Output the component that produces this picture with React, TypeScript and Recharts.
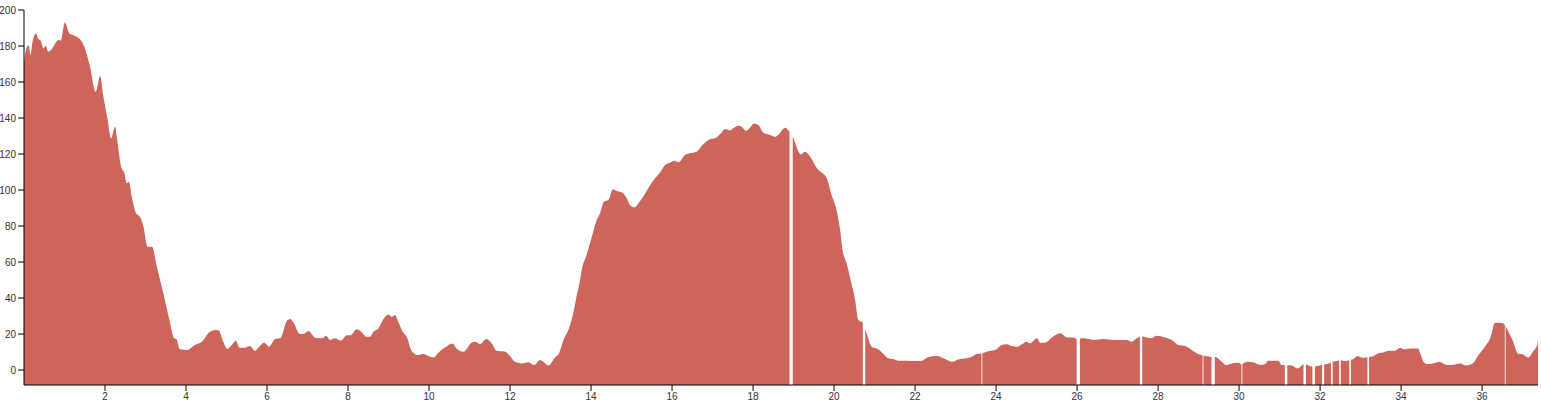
import { AreaChart, Area, XAxis, YAxis } from 'recharts';

// distance (km) -> elevation (m); null marks a break in the profile
const profile: [number, number | null][] = [
  [0.0, 171], [0.04, 177], [0.12, 180.5], [0.16, 175], [0.21, 182.4], [0.3, 187], [0.35, 184],
  [0.41, 183], [0.48, 178.7], [0.54, 180], [0.6, 176.8], [0.7, 178.7], [0.85, 183.3], [0.91, 183],
  [1.01, 193], [1.12, 187], [1.22, 186], [1.37, 184], [1.45, 181.5], [1.63, 168.5], [1.77, 154.6],
  [1.88, 163.3], [1.96, 151.9], [2.06, 139.8], [2.15, 128.7], [2.25, 135.2], [2.3, 127.8],
  [2.41, 112], [2.47, 110], [2.54, 103.7], [2.59, 104.6], [2.66, 96.3], [2.77, 87], [2.86, 85.2],
  [2.95, 79.6], [3.05, 68.5], [3.16, 68.5], [3.28, 57.4], [3.44, 42.6], [3.59, 27.8], [3.71, 17.6],
  [3.77, 17], [3.84, 11.7], [4.02, 11.1], [4.22, 13.9], [4.39, 15.7], [4.59, 21.3], [4.72, 22.2],
  [4.81, 22], [4.92, 15.7], [5.02, 11.7], [5.13, 13.9], [5.23, 16.3], [5.32, 12.4], [5.46, 12.4],
  [5.58, 13.3], [5.7, 10.7], [5.83, 13.5], [5.93, 15.2], [6.05, 13], [6.2, 17.2], [6.32, 17.6],
  [6.4, 21.3], [6.49, 27.4], [6.57, 28.3], [6.65, 26.5], [6.81, 20], [6.9, 20], [7.02, 21.7],
  [7.19, 18], [7.35, 17.6], [7.46, 18.9], [7.56, 16.7], [7.68, 17.6], [7.82, 16.3], [7.97, 19.4],
  [8.07, 19.4], [8.21, 22.6], [8.32, 21.3], [8.46, 18.5], [8.54, 18.5], [8.63, 21.3], [8.75, 23.1],
  [8.87, 28.1], [9.0, 30.9], [9.08, 29.6], [9.16, 30.6], [9.24, 26.9], [9.35, 21.3], [9.45, 18.5],
  [9.57, 10.7], [9.72, 8.3], [9.86, 8.9], [9.98, 7.8], [10.11, 7.0], [10.23, 9.6], [10.4, 12.6],
  [10.58, 14.8], [10.68, 12], [10.85, 10.2], [11.05, 15.2], [11.14, 15.7], [11.26, 14.4],
  [11.42, 17.2], [11.55, 14.8], [11.67, 10.7], [11.88, 10.2], [12.0, 7.8], [12.12, 4.6],
  [12.29, 3.7], [12.45, 4.4], [12.6, 2.8], [12.74, 5.6], [12.82, 4.6], [12.95, 2.6], [13.11, 7],
  [13.21, 9.3], [13.32, 16.7], [13.44, 22.2], [13.56, 31.5], [13.64, 40.7], [13.73, 50],
  [13.77, 55.6], [13.89, 63.9], [14.02, 74.1], [14.14, 83.3], [14.22, 87], [14.32, 93.5],
  [14.43, 94.4], [14.54, 100.4], [14.63, 99.4], [14.78, 98.5], [14.88, 95.4], [14.96, 91.7],
  [15.07, 90.4], [15.21, 93.9], [15.33, 97.8], [15.46, 102.8], [15.58, 106.5], [15.7, 109.6],
  [15.83, 113.9], [15.95, 115.2], [16.07, 116.3], [16.16, 115.4], [16.32, 119.4], [16.44, 120.4],
  [16.61, 121.3], [16.77, 125.4], [16.94, 128.2], [17.06, 128.7], [17.19, 131.1], [17.31, 133.9],
  [17.43, 133.1], [17.52, 134.4], [17.64, 135.7], [17.72, 135.2], [17.82, 132.9], [17.93, 134.8],
  [18.02, 137], [18.13, 136.1], [18.25, 132], [18.42, 130.6], [18.54, 129.6], [18.62, 130.6],
  [18.79, 134.6], [18.9, 132.2], [18.94, null], [18.98, 129.8], [19.0, 128.7], [19.18, 119.8],
  [19.28, 121.3], [19.41, 118.5], [19.59, 111.7], [19.7, 109.6], [19.82, 106.5], [19.94, 97.2],
  [20.07, 88], [20.15, 77.8], [20.21, 66.7], [20.31, 59.3], [20.41, 50], [20.52, 38.9],
  [20.6, 27.8], [20.71, 26.5], [20.74, null], [20.77, 23], [20.81, 20], [20.93, 13], [21.09, 11.6],
  [21.22, 8.9], [21.34, 6.5], [21.46, 6.1], [21.59, 5.2], [21.79, 5.2], [22.0, 5.0], [22.17, 5.2],
  [22.3, 7], [22.54, 7.8], [22.7, 6.5], [22.91, 4.6], [23.07, 5.9], [23.28, 6.5], [23.4, 7.4],
  [23.52, 8.9], [23.64, 9.1], [23.65, null], [23.66, 9.2], [23.77, 10.2], [23.98, 11.1],
  [24.14, 13.9], [24.26, 14.4], [24.39, 13.3], [24.51, 13], [24.67, 14.8], [24.75, 15.7],
  [24.84, 14.8], [25.01, 17.6], [25.09, 15.2], [25.21, 15.2], [25.38, 18.1], [25.58, 20.4],
  [25.75, 18.1], [25.91, 18.1], [25.99, 17.2], [26.03, null], [26.07, 17.4], [26.16, 17.6],
  [26.4, 16.7], [26.65, 17.2], [26.9, 16.7], [27.23, 16.7], [27.35, 15.7], [27.47, 17.6],
  [27.55, 18.7], [27.58, null], [27.61, 18.8], [27.72, 18.1], [27.84, 17.6], [27.96, 19.1],
  [28.17, 18.1], [28.34, 16.7], [28.5, 13.9], [28.67, 13.3], [28.83, 11.1], [28.95, 9.3],
  [29.07, 8.3], [29.1, 8.2], [29.11, null], [29.12, 8.1], [29.28, 7.4], [29.32, 7.3],
  [29.36, null], [29.4, 7.2], [29.45, 7], [29.57, 4.6], [29.68, 2.8], [29.82, 3.7], [29.98, 4.1],
  [30.06, 3.1], [30.07, null], [30.08, 3.2], [30.2, 4.6], [30.35, 4.3], [30.52, 2.8], [30.64, 3.3],
  [30.72, 5.2], [30.97, 5.2], [31.05, 2.8], [31.13, 2.7], [31.16, null], [31.19, 2.7], [31.3, 2.6],
  [31.44, 0.9], [31.59, 3.6], [31.62, null], [31.65, 3.2], [31.71, 2.6], [31.81, 1.9],
  [31.84, null], [31.87, 2], [31.93, 2.2], [32.05, 2.9], [32.07, null], [32.1, 3.1], [32.17, 3.3],
  [32.27, 4.4], [32.29, null], [32.31, 4.7], [32.41, 5.0], [32.47, 5.5], [32.49, null],
  [32.51, 5.5], [32.62, 5.0], [32.72, 5.5], [32.74, null], [32.76, 5.7], [32.82, 6.1], [32.93, 7.8],
  [33.03, 6.9], [33.15, 7.0], [33.17, 7.1], [33.19, null], [33.21, 7.2], [33.32, 7.8], [33.44, 9.3],
  [33.56, 9.8], [33.69, 10.7], [33.85, 10.7], [33.98, 12.4], [34.06, 11.5], [34.22, 12],
  [34.42, 12], [34.47, 9.3], [34.57, 4.1], [34.65, 3.3], [34.86, 4.1], [34.94, 4.6], [35.1, 3],
  [35.25, 2.8], [35.46, 3.7], [35.6, 2.6], [35.77, 3.7], [35.91, 8.3], [36.07, 13], [36.2, 17.6],
  [36.32, 26.3], [36.43, 26.3], [36.52, 25.9], [36.56, 25], [36.57, null], [36.58, 24.5],
  [36.62, 22.6], [36.75, 16.7], [36.9, 8.9], [36.98, 8.9], [37.14, 7], [37.27, 10.7],
  [37.36, 13.9], [37.38, 17],
];

const xTicks = [2, 4, 6, 8, 10, 12, 14, 16, 18, 20, 22, 24, 26, 28, 30, 32, 34, 36];
const yTicks = [0, 20, 40, 60, 80, 100, 120, 140, 160, 180, 200];

const data = profile.map(([d, elev]) => ({ d, elev }));

const tickStyle = { fontSize: 10, fill: '#333', fontFamily: '"Liberation Sans", Arial, sans-serif' };

export default function App() {
  return (
    <div style={{ width: 1541, height: 404 }}>
      <style>{'body { margin: 0; }'}</style>
      <AreaChart width={1541} height={404} data={data} margin={{ top: 10, right: 3, left: 0, bottom: 0 }}>
        <XAxis
          dataKey="d"
          type="number"
          domain={[0, 37.38]}
          ticks={xTicks}
          tick={tickStyle}
          height={19}
          stroke="#000"
          allowDataOverflow
        />
        <YAxis
          type="number"
          domain={[-8.3, 200]}
          ticks={yTicks}
          tick={tickStyle}
          width={24}
          stroke="#000"
          allowDataOverflow
        />
        <Area
          type="monotone"
          dataKey="elev"
          stroke="none"
          fill="#ce645a"
          fillOpacity={1}
          baseValue="dataMin"
          connectNulls={false}
          isAnimationActive={false}
          dot={false}
          activeDot={false}
        />
      </AreaChart>
    </div>
  );
}
